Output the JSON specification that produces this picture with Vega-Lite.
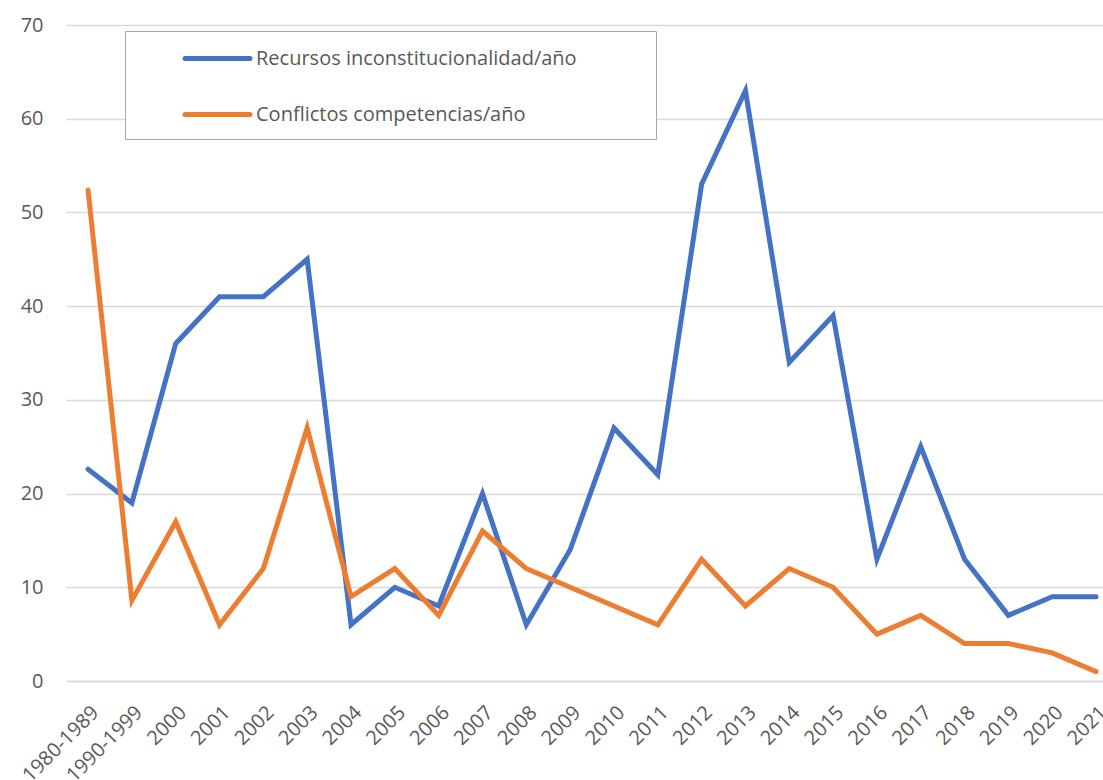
{
  "$schema": "https://vega.github.io/schema/vega-lite/v6.json",
  "width": 1037,
  "height": 656,
  "autosize": {"type": "none"},
  "padding": {"left": 66, "top": 25, "right": 0, "bottom": 99},
  "background": "white",
  "config": {
    "view": {"stroke": null},
    "font": "Open Sans"
  },
  "data": {
    "values": [
      {"periodo": "1980-1989", "serie": "Recursos inconstitucionalidad/año", "valor": 22.6},
      {"periodo": "1990-1999", "serie": "Recursos inconstitucionalidad/año", "valor": 19},
      {"periodo": "2000", "serie": "Recursos inconstitucionalidad/año", "valor": 36},
      {"periodo": "2001", "serie": "Recursos inconstitucionalidad/año", "valor": 41},
      {"periodo": "2002", "serie": "Recursos inconstitucionalidad/año", "valor": 41},
      {"periodo": "2003", "serie": "Recursos inconstitucionalidad/año", "valor": 45},
      {"periodo": "2004", "serie": "Recursos inconstitucionalidad/año", "valor": 6},
      {"periodo": "2005", "serie": "Recursos inconstitucionalidad/año", "valor": 10},
      {"periodo": "2006", "serie": "Recursos inconstitucionalidad/año", "valor": 8},
      {"periodo": "2007", "serie": "Recursos inconstitucionalidad/año", "valor": 20},
      {"periodo": "2008", "serie": "Recursos inconstitucionalidad/año", "valor": 6},
      {"periodo": "2009", "serie": "Recursos inconstitucionalidad/año", "valor": 14},
      {"periodo": "2010", "serie": "Recursos inconstitucionalidad/año", "valor": 27},
      {"periodo": "2011", "serie": "Recursos inconstitucionalidad/año", "valor": 22},
      {"periodo": "2012", "serie": "Recursos inconstitucionalidad/año", "valor": 53},
      {"periodo": "2013", "serie": "Recursos inconstitucionalidad/año", "valor": 63},
      {"periodo": "2014", "serie": "Recursos inconstitucionalidad/año", "valor": 34},
      {"periodo": "2015", "serie": "Recursos inconstitucionalidad/año", "valor": 39},
      {"periodo": "2016", "serie": "Recursos inconstitucionalidad/año", "valor": 13},
      {"periodo": "2017", "serie": "Recursos inconstitucionalidad/año", "valor": 25},
      {"periodo": "2018", "serie": "Recursos inconstitucionalidad/año", "valor": 13},
      {"periodo": "2019", "serie": "Recursos inconstitucionalidad/año", "valor": 7},
      {"periodo": "2020", "serie": "Recursos inconstitucionalidad/año", "valor": 9},
      {"periodo": "2021", "serie": "Recursos inconstitucionalidad/año", "valor": 9},
      {"periodo": "1980-1989", "serie": "Conflictos competencias/año", "valor": 52.4},
      {"periodo": "1990-1999", "serie": "Conflictos competencias/año", "valor": 8.6},
      {"periodo": "2000", "serie": "Conflictos competencias/año", "valor": 17},
      {"periodo": "2001", "serie": "Conflictos competencias/año", "valor": 6},
      {"periodo": "2002", "serie": "Conflictos competencias/año", "valor": 12},
      {"periodo": "2003", "serie": "Conflictos competencias/año", "valor": 27},
      {"periodo": "2004", "serie": "Conflictos competencias/año", "valor": 9},
      {"periodo": "2005", "serie": "Conflictos competencias/año", "valor": 12},
      {"periodo": "2006", "serie": "Conflictos competencias/año", "valor": 7},
      {"periodo": "2007", "serie": "Conflictos competencias/año", "valor": 16},
      {"periodo": "2008", "serie": "Conflictos competencias/año", "valor": 12},
      {"periodo": "2009", "serie": "Conflictos competencias/año", "valor": 10},
      {"periodo": "2010", "serie": "Conflictos competencias/año", "valor": 8},
      {"periodo": "2011", "serie": "Conflictos competencias/año", "valor": 6},
      {"periodo": "2012", "serie": "Conflictos competencias/año", "valor": 13},
      {"periodo": "2013", "serie": "Conflictos competencias/año", "valor": 8},
      {"periodo": "2014", "serie": "Conflictos competencias/año", "valor": 12},
      {"periodo": "2015", "serie": "Conflictos competencias/año", "valor": 10},
      {"periodo": "2016", "serie": "Conflictos competencias/año", "valor": 5},
      {"periodo": "2017", "serie": "Conflictos competencias/año", "valor": 7},
      {"periodo": "2018", "serie": "Conflictos competencias/año", "valor": 4},
      {"periodo": "2019", "serie": "Conflictos competencias/año", "valor": 4},
      {"periodo": "2020", "serie": "Conflictos competencias/año", "valor": 3},
      {"periodo": "2021", "serie": "Conflictos competencias/año", "valor": 1}
    ]
  },
  "mark": {"type": "line", "strokeWidth": 5, "strokeCap": "round", "strokeJoin": "miter"},
  "encoding": {
    "x": {
      "field": "periodo", "type": "ordinal", "sort": null,
      "scale": {"type": "point", "padding": 0.331, "align": 0.76},
      "axis": {
        "title": null, "labelAngle": -45, "labelAlign": "right", "labelBaseline": "top",
        "labelFontSize": 20, "labelColor": "#595959", "labelFont": "Open Sans",
        "ticks": false, "domain": true, "domainColor": "#d9d9d9", "domainWidth": 1.5,
        "labelPadding": 21, "labelOffset": 0, "grid": false
      }
    },
    "y": {
      "field": "valor", "type": "quantitative",
      "scale": {"domain": [0, 70], "nice": false},
      "axis": {
        "title": null, "values": [0, 10, 20, 30, 40, 50, 60, 70],
        "labelFontSize": 20, "labelColor": "#595959", "labelFont": "Open Sans",
        "ticks": false, "domain": false, "grid": true, "gridColor": "#d9d9d9", "gridWidth": 1.5,
        "labelPadding": 23
      }
    },
    "color": {
      "field": "serie", "type": "nominal",
      "sort": ["Recursos inconstitucionalidad/año", "Conflictos competencias/año"],
      "scale": {
        "domain": ["Recursos inconstitucionalidad/año", "Conflictos competencias/año"],
        "range": ["#4472C4", "#ED7D31"]
      },
      "legend": {
        "title": " ", "titleOrient": "right", "titlePadding": 79, "titleFontSize": 109,
        "titleBaseline": "top", "titleAnchor": "start",
        "orient": "none", "legendX": 59, "legendY": 6,
        "symbolType": "M-1.3,0H1.3", "symbolSize": 2500, "symbolStrokeWidth": 5,
        "labelFontSize": 20, "labelColor": "#595959", "labelFont": "Open Sans", "labelOffset": 11,
        "rowPadding": 18, "padding": 0, "symbolOffset": 65,
        "strokeColor": "#a6a6a6", "fillColor": "white", "labelLimit": 500,
        "encode": {"symbols": {"update": {"strokeCap": {"value": "round"}}}}
      }
    }
  }
}
